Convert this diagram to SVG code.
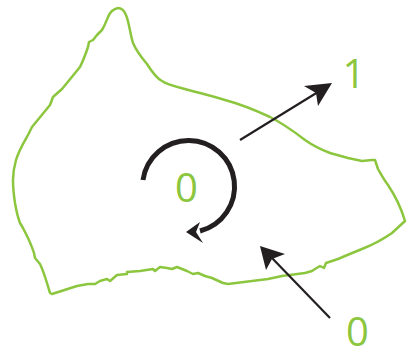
<svg xmlns="http://www.w3.org/2000/svg" width="411" height="352" viewBox="0 0 411 352">
<style>
.outline{fill:none;stroke:#8cc63f;stroke-width:2.5;stroke-linejoin:round;stroke-linecap:round}
.lbl{font-family:"Open Sans","Liberation Sans",sans-serif;font-size:40px;fill:#8cc63f;text-anchor:middle}
.thin{fill:none;stroke:#231f20;stroke-width:2.2}
.thick{fill:none;stroke:#231f20;stroke-width:5}
.head{fill:#231f20}
</style>
<rect width="411" height="352" fill="#ffffff"/>
<g id="region">
<path class="outline" d="M118,8 C121,8 124,10 126,15 C129,22 130,33 133,43 C137,52 141,57 147,64 C152,72 156,78 162,81 C168,85 173,86 185,89 C195,92 205,94 225,100 C240,104 255,110 270,117 C282,123 292,130 305,140 C315,147 322,150 330,153 L348,158 L362,161 L372,160 L375,160 L378,169 C382,176 384,180 388,185 C394,194 400,204 405,221 L392,233 C382,240 372,245 362,249 C352,253 345,256 338,259 L326,263 L324,268 L320,266 L315,269 L312,271 L305,273 L282,276 L268,279 L228,284 L223,283 L212,278 L205,276 L198,273 L193,274 L187,271 L177,267 L172,269 L167,268 L160,267 L155,271 L153,269 L140,271 L127,272 L127,274 L117,275 L110,281 L107,279 L100,281 L95,284 L88,284 L77,286 L52,294 L50,293 C47,283 44,272 40,264 L35,258 L34,253 C31,243 27,236 23,228 L20,223 C17,215 16,209 15,203 C14,196 13,190 13,180 C13,172 14,167 16,160 C19,150 24,142 28,135 L32,127 L50,105 L53,97 L62,89 L80,67 C84,59 86,53 88,47 L89,42 L93,40 L97,35 L102,30 C105,25 106,22 108,17 C110,12 113,9 118,8 Z"/>
</g>
<g id="labels">
<text class="lbl" x="354" y="88">1</text>
<text class="lbl" x="186.5" y="202">0</text>
<text class="lbl" x="357.5" y="346">0</text>
</g>
<g id="connectors">
<line class="thin" x1="240" y1="140" x2="318" y2="92"/>
<polygon class="head" points="332,83 304,86 316,93 318,106"/>
<line class="thin" x1="330" y1="318" x2="272" y2="258"/>
<polygon class="head" points="260,246 266,270 272,259 285,254"/>
<path class="thick" d="M143,180 A46,46 0 1 1 200,231"/>
<polygon class="head" points="186,232 200,222 196,232 203,243"/>
</g>
</svg>
